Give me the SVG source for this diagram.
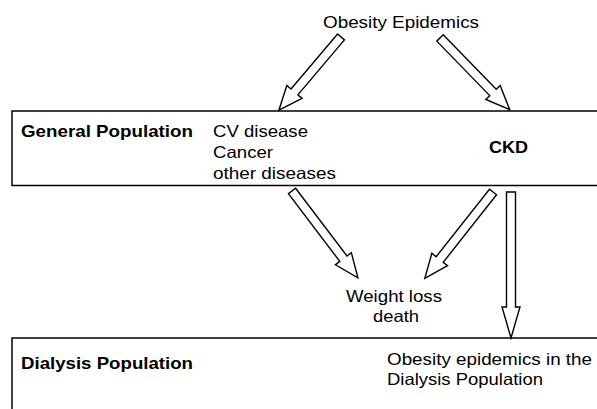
<svg xmlns="http://www.w3.org/2000/svg" width="597" height="409" viewBox="0 0 597 409">
<style>
text{font-family:"Liberation Sans",Arial,Helvetica,sans-serif;font-size:16.5px;fill:#000}
.b{font-weight:bold}
.box{fill:none;stroke:#000;stroke-width:1.5}
.arr{fill:#fff;stroke:#000;stroke-width:1.4;stroke-linejoin:miter}
</style>
<rect width="597" height="409" fill="#fff"/>
<g id="obesity">
<text x="323" y="28" font-size="17" textLength="156" lengthAdjust="spacingAndGlyphs">Obesity Epidemics</text>
</g>
<g id="general">
<path class="box" d="M597,111 H12 V185.5 H597"/>
<text class="b" x="21" y="137" textLength="172" lengthAdjust="spacingAndGlyphs">General Population</text>
<text x="213" y="136.5" textLength="95" lengthAdjust="spacingAndGlyphs">CV disease</text>
<text x="213" y="158" textLength="60" lengthAdjust="spacingAndGlyphs">Cancer</text>
<text x="213" y="178.5" textLength="123" lengthAdjust="spacingAndGlyphs">other diseases</text>
<text class="b" x="489" y="153.3" textLength="39" lengthAdjust="spacingAndGlyphs">CKD</text>
</g>
<g id="outcome">
<text x="346" y="301.7" textLength="96" lengthAdjust="spacingAndGlyphs">Weight loss</text>
<text x="373" y="321.7" textLength="46" lengthAdjust="spacingAndGlyphs">death</text>
</g>
<g id="dialysis">
<path class="box" d="M597,338 H12 V409"/>
<text class="b" x="21" y="369" textLength="172" lengthAdjust="spacingAndGlyphs">Dialysis Population</text>
<text x="387" y="365" textLength="205" lengthAdjust="spacingAndGlyphs">Obesity epidemics in the</text>
<text x="387" y="385" textLength="156" lengthAdjust="spacingAndGlyphs">Dialysis Population</text>
</g>
<g id="connectors">
<path class="arr" transform="translate(341,37) rotate(130.3)" d="M0,-4.5 H72 V-10 L96,0 L72,10 V4.5 H0 Z"/>
<path class="arr" transform="translate(440,38) rotate(45.8)" d="M0,-4.5 H76 V-10 L100,0 L76,10 V4.5 H0 Z"/>
<path class="arr" transform="translate(292,191) rotate(52.8)" d="M0,-4.5 H85 V-10 L109,0 L85,10 V4.5 H0 Z"/>
<path class="arr" transform="translate(493,192) rotate(128.3)" d="M0,-4.5 H86 V-10 L110,0 L86,10 V4.5 H0 Z"/>
<path class="arr" transform="translate(511,192) rotate(90)" d="M0,-4.5 H115 V-9 L146,0 L115,9 V4.5 H0 Z"/>
</g>
</svg>
